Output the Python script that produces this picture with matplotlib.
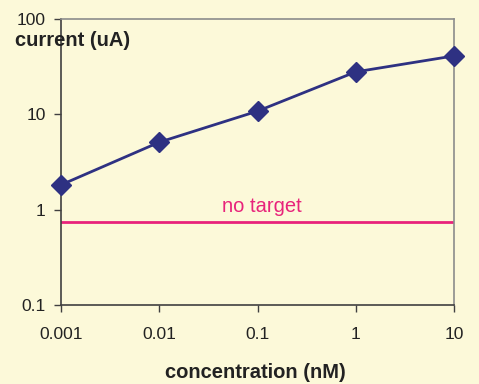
import numpy as np
import matplotlib.pyplot as plt

plt.rcParams['font.family'] = ['Liberation Sans', 'DejaVu Sans']

# data
concentration = [0.001, 0.01, 0.1, 1, 10]
current = [1.82, 5.1, 10.8, 27.9, 41.0]
no_target = 0.74
x_ticks = [0.001, 0.01, 0.1, 1, 10]
x_labels = ["0.001", "0.01", "0.1", "1", "10"]
y_ticks = [0.1, 1, 10, 100]
y_labels = ["0.1", "1", "10", "100"]

bg = "#FCF9D9"
fig = plt.figure(figsize=(4.79, 3.84), dpi=100, facecolor=bg)
ax = fig.add_axes([61 / 479, 1 - 305 / 384, 393 / 479, 286 / 384], facecolor=bg)

ax.set_xscale("log")
ax.set_yscale("log")
ax.set_xlim(0.001, 10)
ax.set_ylim(0.1, 100)

ax.axhline(no_target, color="#E8237B", linewidth=2, zorder=2)
ax.text(0.11, no_target * 1.16, "no target", color="#E8237B", fontsize=14.5,
        ha="center", va="bottom")

ax.plot(concentration, current, color="#2E3182", linewidth=2,
        marker="D", markersize=10, markerfacecolor="#2E3182",
        markeredgecolor="#2E3182", clip_on=False, zorder=3)

ax.set_xticks(x_ticks)
ax.set_xticklabels(x_labels)
ax.set_yticks(y_ticks)
ax.set_yticklabels(y_labels)
ax.minorticks_off()
ax.tick_params(axis="both", direction="out", length=5, width=1,
               color="#404040", labelsize=12.5, labelcolor="#222222")
ax.tick_params(axis="x", pad=11)
ax.tick_params(axis="y", pad=6)

for side in ["left", "bottom"]:
    ax.spines[side].set_color("#404040")
    ax.spines[side].set_linewidth(1.2)
for side in ["top", "right"]:
    ax.spines[side].set_color("#8C8C8C")
    ax.spines[side].set_linewidth(1.2)

fig.text(15 / 479, 1 - 41 / 384, "current (uA)", fontsize=14.5,
         fontweight="bold", color="#222222", ha="left", va="center")
fig.text(255 / 479, 1 - 372 / 384, "concentration (nM)", fontsize=14.5,
         fontweight="bold", color="#222222", ha="center", va="center")

fig.savefig("out.png", dpi=100, facecolor=bg)
